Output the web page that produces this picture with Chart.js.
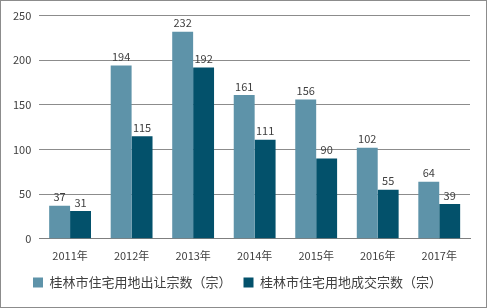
<!DOCTYPE html>
<html>
<head>
<meta charset="utf-8">
<script src="https://cdn.jsdelivr.net/npm/chart.js@4/dist/chart.umd.min.js"></script>
<style>
  html, body { margin: 0; padding: 0; background: #fff; }
  #wrap { width: 485px; height: 306px; border: 1px solid #8c8c8c; position: relative; }
</style>
</head>
<body>
<div id="wrap"><canvas id="chart1"></canvas></div>
<script>
const years = ['2011年', '2012年', '2013年', '2014年', '2015年', '2016年', '2017年'];
const supplyCount = [37, 194, 232, 161, 156, 102, 64];   // 出让宗数
const dealCount = [31, 115, 192, 111, 90, 55, 39];       // 成交宗数
const seriesNames = ['桂林市住宅用地出让宗数（宗）', '桂林市住宅用地成交宗数（宗）'];

const fontFamily = "'Microsoft YaHei', 'Noto Sans CJK SC', sans-serif";

// ป้ายตัวเลขบนแท่ง
const barLabels = {
  id: 'barLabels',
  afterDatasetsDraw(chart) {
    const ctx = chart.ctx;
    ctx.save();
    ctx.font = "11px " + fontFamily;
    ctx.fillStyle = '#404040';
    ctx.textAlign = 'center';
    ctx.textBaseline = 'bottom';
    chart.data.datasets.forEach((ds, i) => {
      chart.getDatasetMeta(i).data.forEach((bar, j) => {
        ctx.fillText(ds.data[j], bar.x, bar.y - 3);
      });
    });
    ctx.restore();
  }
};

const ctx1 = document.getElementById('chart1').getContext('2d');
const chart1 = new Chart(ctx1, {
  type: 'bar',
  data: {
    labels: years,
    datasets: [
      { label: seriesNames[0], data: supplyCount, backgroundColor: '#5e93a9' },
      { label: seriesNames[1], data: dealCount, backgroundColor: '#03516b' }
    ]
  },
  options: {
    responsive: true,
    maintainAspectRatio: false,
    animation: false,
    datasets: { bar: { categoryPercentage: 0.68, barPercentage: 1 } },
    layout: { padding: { left: 4, right: 16, top: 10, bottom: 8 } },
    plugins: {
      legend: {
        position: 'bottom',
        labels: {
          color: '#404040',
          font: { family: fontFamily, size: 13 },
          boxWidth: 10,
          boxHeight: 10,
          padding: 12
        }
      },
      tooltip: { enabled: false }
    },
    scales: {
      x: {
        grid: { display: false },
        border: { color: '#7f7f7f' },
        ticks: { color: '#404040', font: { family: fontFamily, size: 11 }, padding: 2 }
      },
      y: {
        min: 0,
        max: 250,
        ticks: { stepSize: 50, color: '#404040', font: { family: fontFamily, size: 11 }, padding: 8 },
        grid: { color: '#8c8c8c', drawTicks: false },
        border: { display: false }
      }
    }
  },
  plugins: [barLabels]
});
</script>
</body>
</html>
